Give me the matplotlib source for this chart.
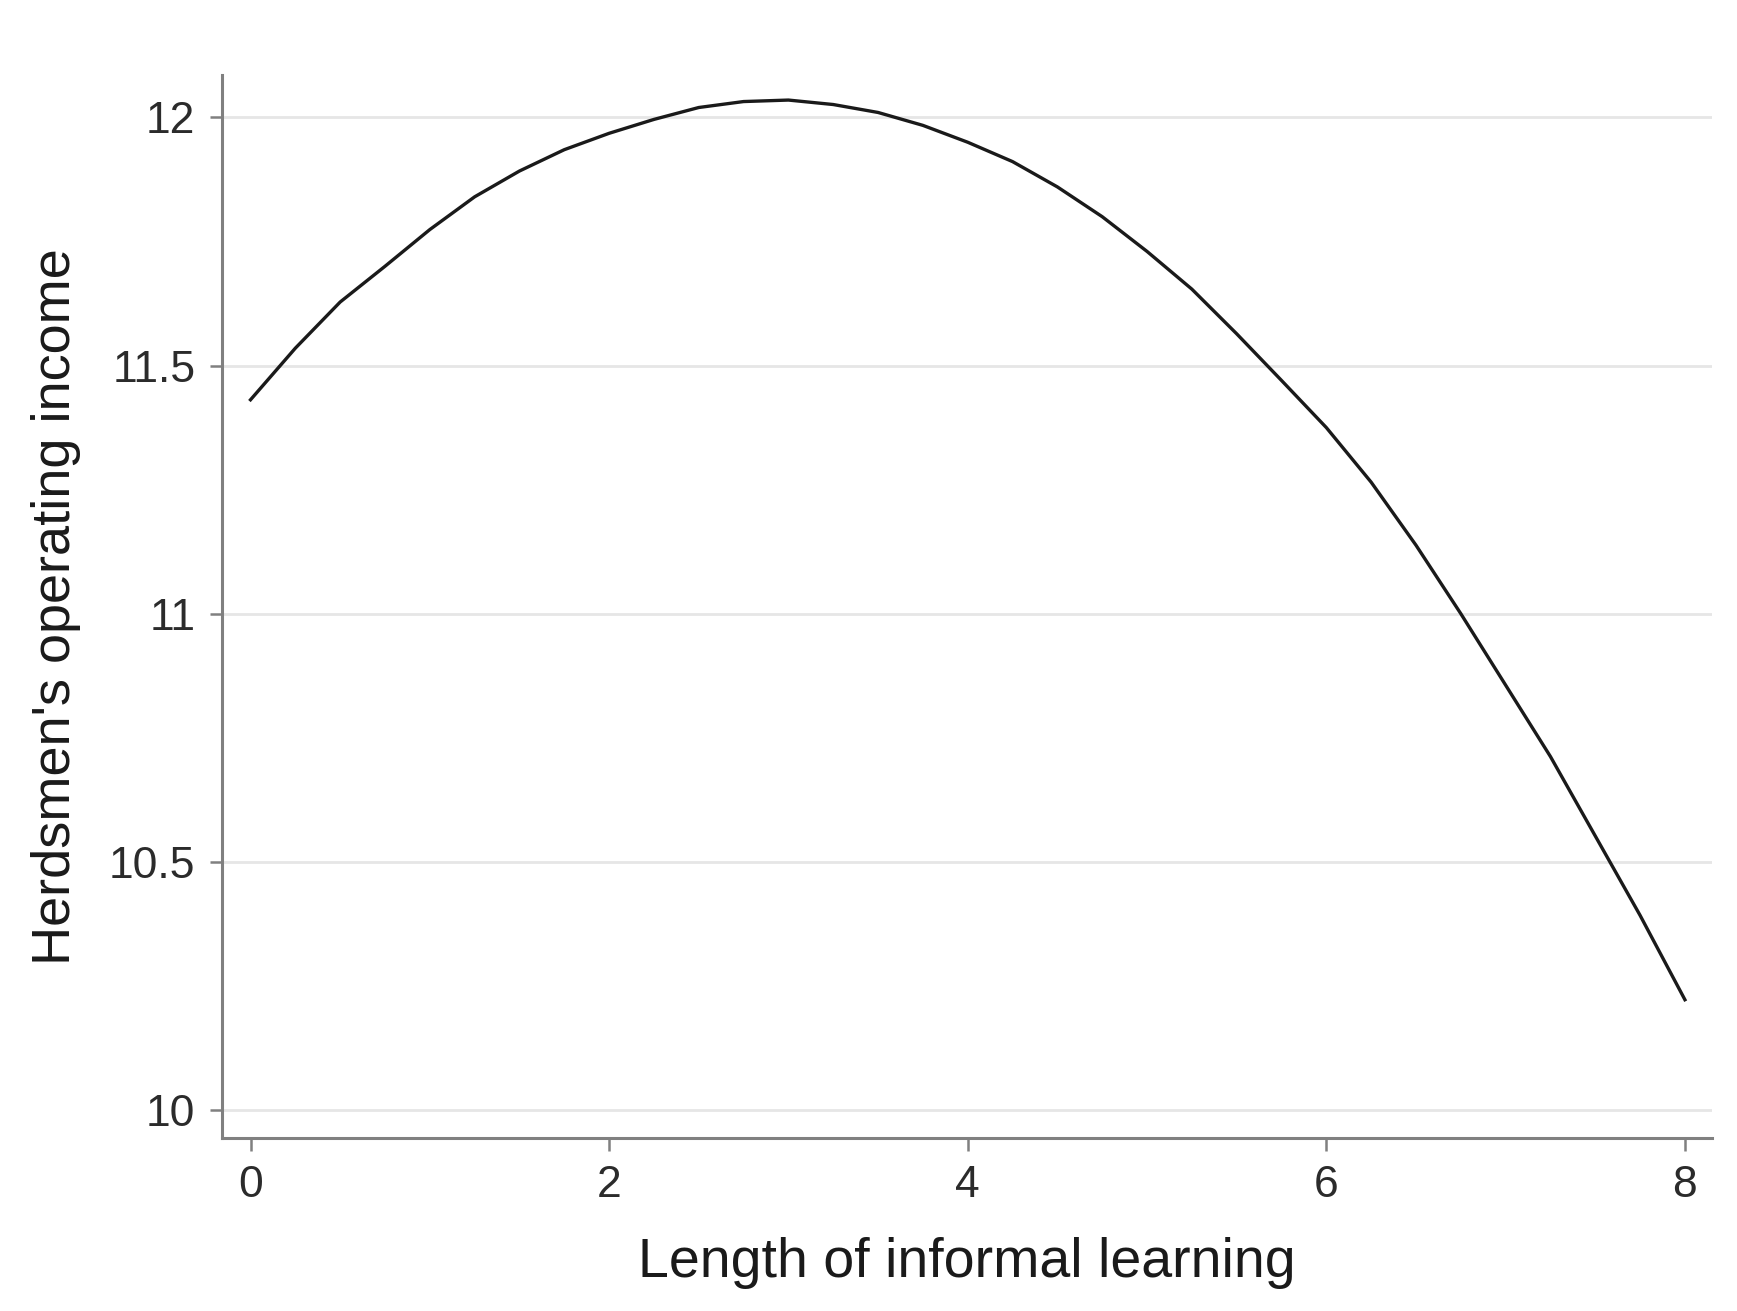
import matplotlib
matplotlib.use("Agg")
import matplotlib.pyplot as plt

plt.rcParams['font.family'] = ['Liberation Sans', 'DejaVu Sans']

# Data
learning_length = [0, 0.25, 0.5, 0.75, 1, 1.25, 1.5, 1.75, 2, 2.25, 2.5, 2.75, 3, 3.25,
                   3.5, 3.75, 4, 4.25, 4.5, 4.75, 5, 5.25, 5.5, 5.75, 6, 6.25, 6.5,
                   6.75, 7, 7.25, 7.5, 7.75, 8]
operating_income = [11.431, 11.535, 11.628, 11.700, 11.774, 11.840, 11.892, 11.935,
                    11.968, 11.996, 12.020, 12.032, 12.035, 12.026, 12.010, 11.984,
                    11.950, 11.911, 11.860, 11.800, 11.730, 11.654, 11.564, 11.470,
                    11.375, 11.265, 11.138, 11.000, 10.856, 10.712, 10.552, 10.392,
                    10.222]
x_ticks = [0, 2, 4, 6, 8]
y_ticks = [10, 10.5, 11, 11.5, 12]
y_tick_labels = ["10", "10.5", "11", "11.5", "12"]

fig = plt.figure(figsize=(17.37, 13.11), dpi=100)
ax = fig.add_axes([0.1276, 0.1322, 0.8578, 0.8104])

ax.plot(learning_length, operating_income, color='#1a1a1a', linewidth=2.4, zorder=3)

ax.set_xlim(-0.161, 8.149)
ax.set_ylim(9.944, 12.085)
ax.set_xticks(x_ticks)
ax.set_xticklabels([str(t) for t in x_ticks])
ax.set_yticks(y_ticks)
ax.set_yticklabels(y_tick_labels)

ax.grid(axis='y', color='#e6e6e6', linewidth=2.0)
ax.set_axisbelow(True)

for s in ['top', 'right']:
    ax.spines[s].set_visible(False)
for s in ['left', 'bottom']:
    ax.spines[s].set_color('#808080')
    ax.spines[s].set_linewidth(2.2)

ax.tick_params(axis='both', colors='#808080', width=1.8, length=9, labelsize=32,
               labelcolor='#2b2b2b')
ax.tick_params(axis='y', pad=10)
ax.tick_params(axis='x', pad=11)

ax.set_xlabel("Length of informal learning", fontsize=40, color='#1a1a1a', labelpad=22)
ax.set_ylabel("Herdsmen's operating income", fontsize=39, color='#1a1a1a', labelpad=20)

fig.savefig("out.png", dpi=100, facecolor='white')
